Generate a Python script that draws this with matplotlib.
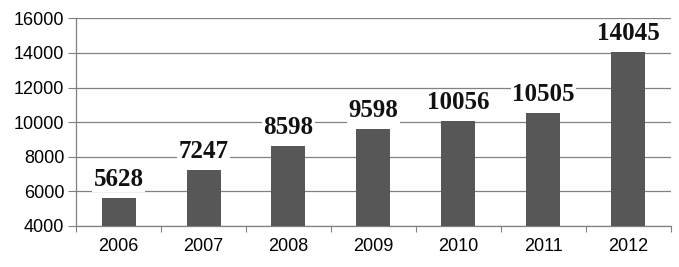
import numpy as np
import matplotlib
matplotlib.use("Agg")
import matplotlib.pyplot as plt

years = ["2006", "2007", "2008", "2009", "2010", "2011", "2012"]
values = [5628, 7247, 8598, 9598, 10056, 10505, 14045]

plt.rcParams["font.family"] = ["Liberation Sans", "DejaVu Sans"]

fig = plt.figure(figsize=(6.79, 2.67), dpi=100)
ax = fig.add_axes([0.112, 0.1536, 0.876, 0.778])

x = np.arange(len(years))
ax.bar(x, np.array(values) - 4000, bottom=4000, width=0.4, color="#575757", zorder=3)

# data labels in bold serif, white box hides the gridline behind them
for xi, v in zip(x, values):
    ax.annotate(str(v), (xi, v), xytext=(0, 5), textcoords="offset points",
                ha="center", va="bottom", fontsize=18, fontweight="bold", color="#111111",
                family=["Liberation Serif", "DejaVu Serif"],
                bbox=dict(facecolor="white", edgecolor="none", pad=1), zorder=4)

ax.set_xlim(-0.5, len(years) - 0.5)
ax.set_ylim(4000, 16000)
ax.set_yticks(range(4000, 16001, 2000))
ax.set_xticks(x)
ax.set_xticklabels(years)
ax.set_xticks(np.arange(-0.5, len(years)), minor=True)
ax.tick_params(axis="x", which="major", length=0, pad=9, labelsize=13)
ax.tick_params(axis="x", which="minor", length=4, width=0.8, color="#808080")
ax.tick_params(axis="y", length=5.5, width=0.8, color="#808080", labelsize=13, pad=3)

ax.yaxis.grid(True, color="#808080", linewidth=0.9, zorder=0)
ax.set_axisbelow(True)
for s in ["top", "right"]:
    ax.spines[s].set_visible(False)
for s in ["left", "bottom"]:
    ax.spines[s].set_color("#808080")
    ax.spines[s].set_linewidth(0.9)

fig.savefig("out.png", dpi=100)
